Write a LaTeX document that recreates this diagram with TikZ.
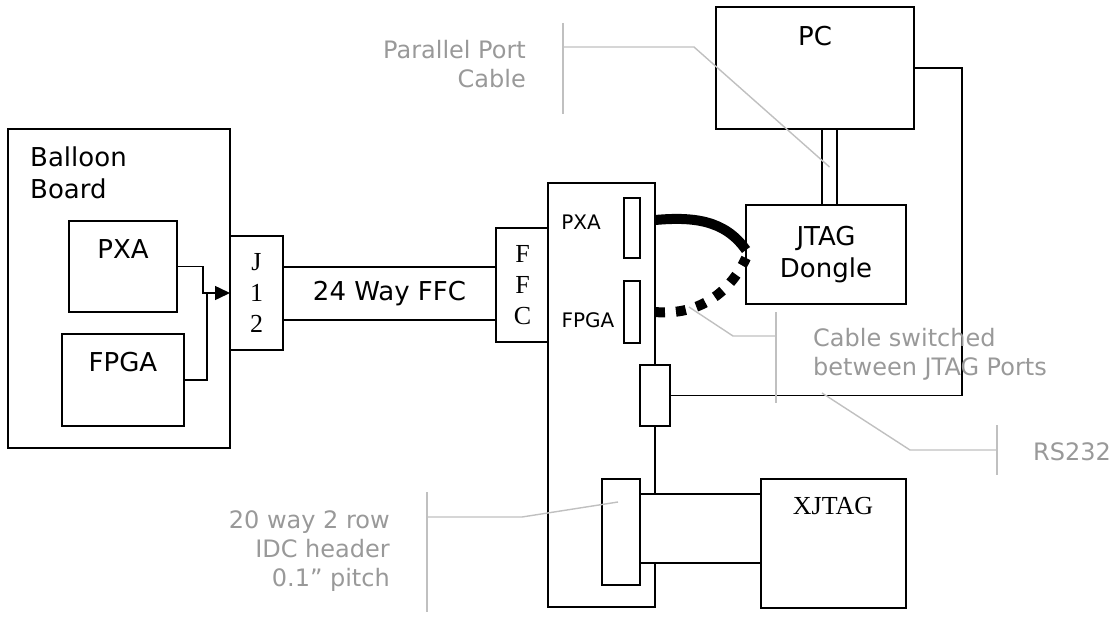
\documentclass[tikz,border=0pt]{standalone}
\usepackage{fontspec}
\setmainfont{DejaVu Sans}
\newfontfamily\timesfont{Liberation Serif}
\usepackage{tikz}
\usetikzlibrary{arrows.meta,positioning,calc}
\definecolor{notegray}{HTML}{999999}
\definecolor{leadgray}{HTML}{C0C0C0}
\tikzset{
  box/.style={rectangle, draw, line width=1.5pt, fill=white, inner sep=0pt, outer sep=0pt},
  lbl/.style={inner sep=0pt, font=\fontsize{26}{32}\selectfont},
  serifl/.style={inner sep=0pt, align=center, font=\timesfont\fontsize{26}{31}\selectfont},
  smalllbl/.style={inner sep=0pt, font=\fontsize{20}{24}\selectfont},
  note/.style={inner sep=0pt, text=notegray, font=\fontsize{24}{29}\selectfont},
  lead/.style={draw=leadgray, line width=1.4pt},
  jcable/.style={line width=10pt},
  arr/.style={-{Triangle[length=15pt,width=14pt]}, line width=1.5pt},
}
\begin{document}
\begin{tikzpicture}[x=1pt, y=-1pt]
\useasboundingbox (0,0) rectangle (1118,618);
% balloon board
\node[box, minimum width=222pt, minimum height=319pt] (balloon) at (119,288.5) {};
\node[lbl, align=left, anchor=west] (balloonT) at (30,173) {Balloon\\Board};
\node[box, minimum width=108pt, minimum height=91pt] (pxa) at (123,266.5) {};
\node[lbl] (pxaT) at (123,249) {PXA};
\node[box, minimum width=122pt, minimum height=92pt] (fpga) at (123,380) {};
\node[lbl] (fpgaT) at (123,362) {FPGA};
\node[box, serifl, minimum width=53pt, minimum height=114pt] (j12) at (256.5,293) {J\\1\\2};
\draw[arr] (pxa.east) -- ++(26,0) |- (j12.west);
\draw[line width=1.5pt] (fpga.east) -| ([xshift=-23pt]j12.west);
% flat cable
\node[box, lbl, minimum width=213pt, minimum height=53pt] (ribbon) at (389.5,293.5) {24 Way FFC};
\node[box, serifl, minimum width=53pt, minimum height=114pt] (ffc) at (522.5,285) {F\\F\\C};
% interface board
\node[box, minimum width=107pt, minimum height=424pt] (board) at (601.5,395) {};
\node[box, minimum width=16pt, minimum height=60pt] (pxaslot) at (632,228) {};
\node[box, minimum width=16pt, minimum height=62pt] (fpgaslot) at (632,312) {};
\node[smalllbl] (pxaport) at (581,222) {PXA};
\node[smalllbl] (fpgaport) at (588,320) {FPGA};
\node[box, minimum width=30pt, minimum height=61pt] (serialconn) at (655,395.5) {};
\node[box, minimum width=122pt, minimum height=69pt] (idcribbon) at (701,528.5) {};
\node[box, minimum width=38pt, minimum height=106pt] (idc) at (621,532) {};
\node[box, minimum width=145pt, minimum height=129pt] (xjtag) at (833.5,543.5) {};
\node[serifl] (xjtagT) at (833,506) {XJTAG};
% pc and dongle
\node[box, minimum width=198pt, minimum height=122pt] (pc) at (815,68) {};
\node[lbl] (pcT) at (815,36) {PC};
\node[box, lbl, align=center, minimum width=160pt, minimum height=99pt] (dongle) at (826,254.5) {JTAG\\Dongle};
\node[box, minimum width=15pt, minimum height=76pt] (parcable) at (829.5,167) {};
\draw[line width=1.5pt] (pc.east) -- ++(48,0) |- (serialconn.east);
% jtag cable, one port used at a time
\draw[jcable] ([yshift=-37pt]board.north east) to[out=5,in=125] ([yshift=-45pt]dongle.north west);
\draw[jcable, dash pattern=on 10pt off 11pt] ([yshift=-129pt]board.north east) to[out=-5,in=-115] ([yshift=-53pt]dongle.north west);
% notes
\node[note, align=right, anchor=east] (ppnote) at (526,64) {Parallel Port\\Cable};
\coordinate (ppbar) at (563,47);
\draw[lead] (ppbar) ++(0,-24) -- ++(0,91);
\draw[lead] (ppbar) -- ++(131,0) -- (parcable.center);
\node[note, align=left, anchor=west] (swnote) at (813,354) {Cable switched\\between JTAG Ports};
\coordinate (swbar) at (776,336);
\coordinate (swtip) at (689,307);
\draw[lead] (swbar) ++(0,-24) -- ++(0,91);
\draw[lead] (swbar) -- ++(-43,0) -- (swtip);
\node[note, anchor=west] (rsnote) at (1033,452) {RS232};
\coordinate (rsbar) at (997,450);
\coordinate (rstip) at (822,393);
\draw[lead] (rsbar) ++(0,-25) -- ++(0,50);
\draw[lead] (rsbar) -- ++(-87,0) -- (rstip);
\node[note, align=right, anchor=east] (idcnote) at (390,551) {20 way 2 row\\IDC header\\0.1” pitch};
\coordinate (idcbar) at (427,517);
\coordinate (idctip) at (618,502);
\draw[lead] (idcbar) ++(0,-25) -- ++(0,120);
\draw[lead] (idcbar) -- ++(95,0) -- (idctip);
\end{tikzpicture}
\end{document}
